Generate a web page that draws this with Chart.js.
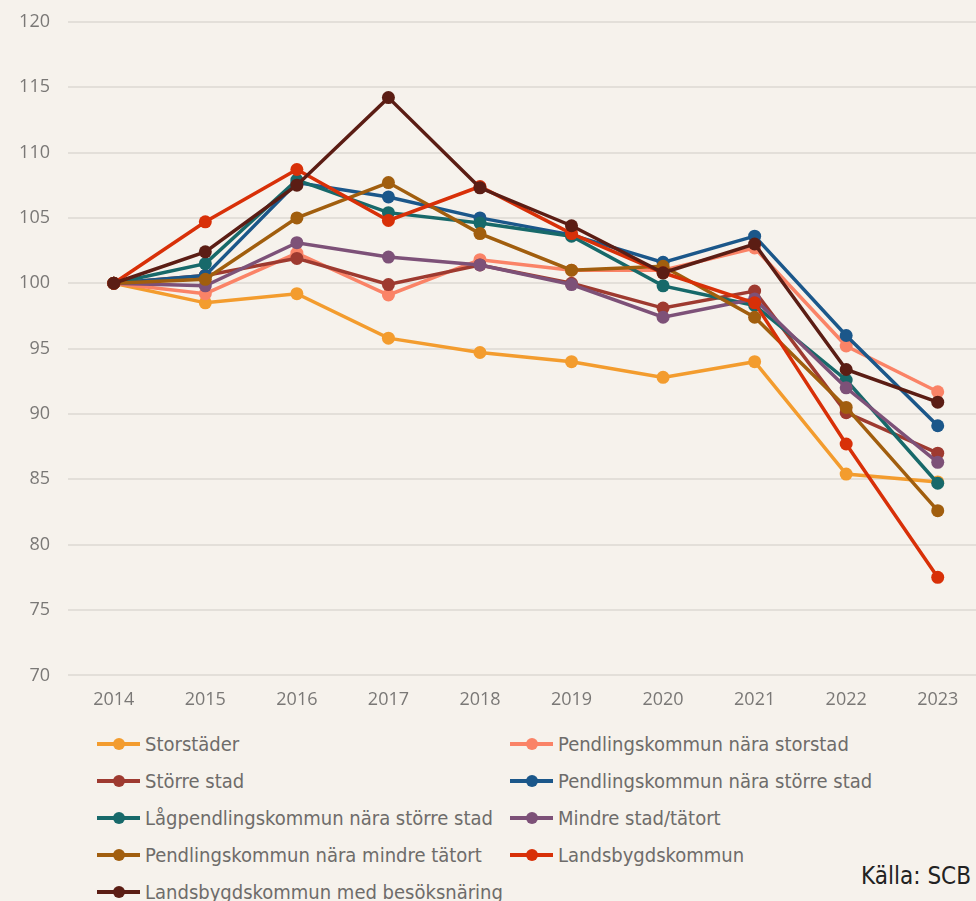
<!DOCTYPE html>
<html>
<head>
<meta charset="utf-8">
<script src="https://cdn.jsdelivr.net/npm/chart.js@4.4.1/dist/chart.umd.min.js"></script>
<style>
html, body { margin: 0; padding: 0; background: #f6f2ec; overflow: hidden; width: 976px; height: 901px; }
#chart { position: absolute; left: 0; top: 0; }
#legend {
  position: absolute; left: 97px; top: 725px;
  display: grid; grid-template-columns: 413px 420px; grid-auto-rows: 37px; align-items: center;
  font-family: "DejaVu Sans Condensed", "DejaVu Sans"; font-stretch: condensed;
  font-size: 20px; color: #6e6c6a;
}
.item { display: flex; align-items: center; white-space: nowrap; }
.mark { position: relative; width: 43px; height: 4px; margin-right: 5px; }
.mark i { position: absolute; left: 16px; top: -4px; width: 12px; height: 12px; border-radius: 50%; }
#source {
  position: absolute; right: 5px; top: 862px;
  font-family: "DejaVu Sans Condensed", "DejaVu Sans"; font-stretch: condensed;
  font-size: 24px; color: #222;
}
</style>
</head>
<body>
<canvas id="chart" width="990" height="725"></canvas>
<div id="legend"></div>
<div id="source">Källa: SCB</div>
<script>
const years = ['2014', '2015', '2016', '2017', '2018', '2019', '2020', '2021', '2022', '2023'];

const storstader      = [100, 98.5, 99.2, 95.8, 94.7, 94.0, 92.8, 94.0, 85.4, 84.8];
const pendlStorstad   = [100, 99.2, 102.3, 99.1, 101.8, 101.0, 101.0, 102.7, 95.2, 91.7];
const storreStad      = [100, 100.6, 101.9, 99.9, 101.4, 100.0, 98.1, 99.4, 90.1, 87.0];
const pendlStorreStad = [100, 100.6, 107.7, 106.6, 105.0, 103.7, 101.6, 103.6, 96.0, 89.1];
const lagpendling     = [100, 101.5, 107.9, 105.4, 104.6, 103.6, 99.8, 98.3, 92.6, 84.7];
const mindreStad      = [100, 99.8, 103.1, 102.0, 101.4, 99.9, 97.4, 98.8, 92.0, 86.3];
const pendlMindre     = [100, 100.3, 105.0, 107.7, 103.8, 101.0, 101.3, 97.4, 90.5, 82.6];
const landsbygd       = [100, 104.7, 108.7, 104.8, 107.4, 103.8, 100.8, 98.5, 87.7, 77.5];
const landsbygdBesok  = [100, 102.4, 107.5, 114.2, 107.3, 104.4, 100.8, 103.0, 93.4, 90.9];

const seriesNames = [
  'Storstäder', 'Pendlingskommun nära storstad',
  'Större stad', 'Pendlingskommun nära större stad',
  'Lågpendlingskommun nära större stad', 'Mindre stad/tätort',
  'Pendlingskommun nära mindre tätort', 'Landsbygdskommun',
  'Landsbygdskommun med besöksnäring'
];
const seriesValues = [storstader, pendlStorstad, storreStad, pendlStorreStad, lagpendling,
  mindreStad, pendlMindre, landsbygd, landsbygdBesok];
const colors = ['#f39c2e', '#fa8367', '#9e3a30', '#1b578a', '#17696a', '#7d5178',
  '#a15e0e', '#d83008', '#5b1d14'];

const yTicks = [70, 75, 80, 85, 90, 95, 100, 105, 110, 115, 120];

const n = seriesNames.length;
const datasets = seriesNames.map((name, i) => ({
  label: name,
  data: seriesValues[i],
  borderColor: colors[i],
  backgroundColor: colors[i],
  pointBackgroundColor: colors[i],
  pointBorderColor: colors[i],
  pointBorderWidth: 0,
  pointRadius: 6.5,
  pointHoverRadius: 6.5,
  borderWidth: 3.5,
  tension: 0,
  order: n - 1 - i
}));

new Chart(document.getElementById('chart'), {
  type: 'line',
  data: { labels: years, datasets },
  options: {
    responsive: false,
    animation: false,
    layout: { padding: { top: 0, right: 5, left: 0, bottom: 0 } },
    plugins: { legend: { display: false }, tooltip: { enabled: false } },
    scales: {
      x: {
        offset: true,
        grid: { display: false, drawTicks: false },
        border: { display: false },
        ticks: { color: '#7a7876', padding: 14, font: { family: 'Open Sans', size: 18 } }
      },
      y: {
        min: 70, max: 120,
        afterFit: s => { s.width = 68; },
        afterBuildTicks: s => { s.ticks = yTicks.map(v => ({ value: v })); },
        // invisible tick marks only to push the labels left of the plot
        grid: { color: '#e3dfd9', lineWidth: 2, drawTicks: true, tickLength: 7, tickColor: 'rgba(0,0,0,0)' },
        border: { display: false },
        ticks: { color: '#7a7876', padding: 11, font: { family: 'Open Sans', size: 18 } }
      }
    }
  }
});

const legend = document.getElementById('legend');
seriesNames.forEach((name, i) => {
  const item = document.createElement('div');
  item.className = 'item';
  item.innerHTML = '<span class="mark" style="background:' + colors[i] + '"><i style="background:' +
    colors[i] + '"></i></span><span>' + name + '</span>';
  legend.appendChild(item);
});
</script>
</body>
</html>
